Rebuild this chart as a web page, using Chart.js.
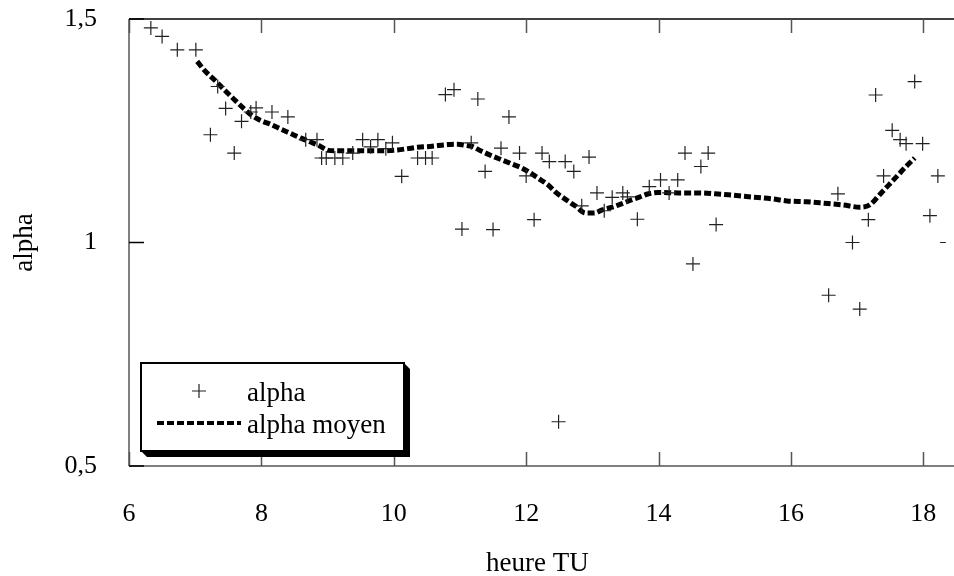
<!DOCTYPE html>
<html>
<head>
<meta charset="utf-8">
<script src="https://cdn.jsdelivr.net/npm/chart.js@4/dist/chart.umd.min.js"></script>
<style>
  html, body { margin: 0; padding: 0; background: #fff; overflow: hidden; }
  canvas { display: block; }
</style>
</head>
<body>
<canvas id="chart" width="954" height="576"></canvas>
<script>
// measured alpha values (crosses)
const hours = [6.33, 6.50, 6.73, 7.01, 7.23, 7.34, 7.46, 7.59, 7.70, 7.84, 7.92, 8.16, 8.40, 8.67, 8.84,
  8.91, 8.98, 9.11, 9.23, 9.38, 9.53, 9.65, 9.76, 9.88, 9.98, 10.12, 10.36, 10.48, 10.58, 10.78,
  10.91, 11.03, 11.17, 11.27, 11.38, 11.50, 11.62, 11.74, 11.90, 12.00, 12.12, 12.24, 12.35, 12.49,
  12.59, 12.72, 12.84, 12.95, 13.07, 13.18, 13.30, 13.46, 13.53, 13.68, 13.86, 14.03, 14.16, 14.29,
  14.40, 14.52, 14.64, 14.75, 14.87, 16.57, 16.71, 16.93, 17.04, 17.17, 17.28, 17.40, 17.53, 17.65,
  17.74, 17.87, 17.99, 18.10, 18.22, 18.36];
const alpha = [1.480, 1.461, 1.431, 1.431, 1.241, 1.349, 1.300, 1.200, 1.271, 1.292, 1.301, 1.292, 1.281, 1.230, 1.230,
  1.189, 1.189, 1.189, 1.189, 1.200, 1.230, 1.214, 1.230, 1.210, 1.223, 1.148, 1.189, 1.189, 1.189, 1.331,
  1.342, 1.030, 1.223, 1.321, 1.159, 1.029, 1.211, 1.281, 1.200, 1.149, 1.051, 1.200, 1.181, 0.599,
  1.181, 1.159, 1.082, 1.191, 1.111, 1.071, 1.101, 1.111, 1.102, 1.052, 1.125, 1.140, 1.111, 1.140,
  1.200, 0.952, 1.170, 1.200, 1.040, 0.882, 1.109, 1.000, 0.851, 1.051, 1.330, 1.149, 1.251, 1.230,
  1.221, 1.360, 1.221, 1.060, 1.149, 1.000];

// running mean (dashed curve)
const meanHours = [7.03, 7.16, 7.31, 7.45, 7.59, 7.74, 7.86, 7.99, 8.13, 8.29, 8.44, 8.59, 8.72, 8.87,
  9.01, 9.11, 9.46, 9.76, 10.06, 10.21, 10.36, 10.55, 10.81, 10.96, 11.10, 11.18, 11.33, 11.48,
  11.63, 11.78, 11.93, 12.05, 12.18, 12.33, 12.45, 12.60, 12.75, 12.90, 13.03, 13.15, 13.30, 13.45,
  13.60, 13.72, 13.85, 14.00, 14.30, 14.60, 14.85, 15.10, 15.40, 15.70, 15.94, 16.24, 16.49, 16.79,
  17.04, 17.19, 17.34, 17.48, 17.60, 17.74, 17.87];
const meanAlpha = [1.405, 1.382, 1.361, 1.340, 1.320, 1.299, 1.284, 1.273, 1.265, 1.254, 1.244, 1.234, 1.226, 1.217,
  1.206, 1.205, 1.205, 1.205, 1.207, 1.210, 1.213, 1.215, 1.219, 1.220, 1.217, 1.215, 1.204, 1.194,
  1.185, 1.176, 1.167, 1.157, 1.144, 1.129, 1.112, 1.096, 1.081, 1.066, 1.066, 1.073, 1.079, 1.087,
  1.096, 1.102, 1.109, 1.112, 1.111, 1.111, 1.109, 1.106, 1.102, 1.098, 1.093, 1.091, 1.088, 1.084,
  1.079, 1.084, 1.107, 1.129, 1.148, 1.170, 1.189];

const xTicks = [6, 8, 10, 12, 14, 16, 18];
const yTickLabels = { 0.5: '0,5', 1: '1', 1.5: '1,5' };

const FAMILY = '"Liberation Serif", "Times New Roman", serif';
const TICK_FONT = { family: FAMILY, size: 26 };
const TEXT_FONT = { family: FAMILY, size: 27 };

// no automatic label padding: chart area is fixed by layout padding
const noPad = s => { s.paddingLeft = s.paddingRight = s.paddingTop = s.paddingBottom = 0; };

// axes drawn by hand: ticks pointing inwards, gray frame
const framePlugin = {
  id: 'frame',
  beforeDatasetsDraw(chart) {
    const { ctx, chartArea: a, scales: { x, y } } = chart;
    ctx.save();
    ctx.lineCap = 'butt';
    // top line
    ctx.strokeStyle = '#000';
    ctx.lineWidth = 1.5;
    ctx.beginPath();
    ctx.moveTo(a.left, a.top); ctx.lineTo(chart.width, a.top);
    ctx.stroke();
    // left + bottom
    ctx.strokeStyle = '#808080';
    ctx.lineWidth = 2;
    ctx.beginPath();
    ctx.moveTo(a.left, a.top); ctx.lineTo(a.left, a.bottom);
    ctx.moveTo(a.left, a.bottom); ctx.lineTo(chart.width, a.bottom);
    ctx.stroke();
    // x ticks top & bottom
    ctx.strokeStyle = '#555';
    ctx.lineWidth = 1.5;
    ctx.beginPath();
    xTicks.forEach(v => {
      const px = Math.round(x.getPixelForValue(v)) + 0.5;
      ctx.moveTo(px, a.top); ctx.lineTo(px, a.top + 14);
      ctx.moveTo(px, a.bottom); ctx.lineTo(px, a.bottom - 14);
    });
    ctx.stroke();
    // y ticks
    ctx.strokeStyle = '#000';
    ctx.beginPath();
    Object.keys(yTickLabels).forEach(v => {
      const py = y.getPixelForValue(+v);
      ctx.moveTo(a.left, py); ctx.lineTo(a.left + 15, py);
    });
    ctx.stroke();
    ctx.restore();
  }
};

// boxed legend with drop shadow
const boxLegend = {
  id: 'boxLegend',
  afterDatasetsDraw(chart) {
    const { ctx, chartArea: a } = chart;
    const L = a.left + 12, R = a.left + 275, T = a.bottom - 103, B = a.bottom - 15;
    const sh = 6;
    ctx.save();
    ctx.fillStyle = '#000';
    ctx.beginPath();
    ctx.moveTo(R, T); ctx.lineTo(R + sh, T + sh); ctx.lineTo(R + sh, B + sh);
    ctx.lineTo(L + sh, B + sh); ctx.lineTo(L, B); ctx.lineTo(R, B); ctx.closePath();
    ctx.fill();
    ctx.fillStyle = '#fff';
    ctx.fillRect(L, T, R - L, B - T);
    ctx.strokeStyle = '#000';
    ctx.lineWidth = 2;
    ctx.strokeRect(L, T, R - L, B - T);

    const ds = chart.data.datasets;
    const row1 = T + 31, row2 = T + 63;
    // cross marker
    ctx.strokeStyle = '#222';
    ctx.lineWidth = 1.2;
    ctx.beginPath();
    ctx.moveTo(L + 58 - 7, row1 - 3); ctx.lineTo(L + 58 + 7, row1 - 3);
    ctx.moveTo(L + 58, row1 - 10); ctx.lineTo(L + 58, row1 + 4);
    ctx.stroke();
    // dashed sample
    ctx.strokeStyle = '#000';
    ctx.lineWidth = 4;
    ctx.setLineDash([7, 3]);
    ctx.beginPath();
    ctx.moveTo(L + 16, row2 - 3); ctx.lineTo(L + 100, row2 - 3);
    ctx.stroke();
    ctx.setLineDash([]);
    ctx.fillStyle = '#000';
    ctx.font = `${TEXT_FONT.size}px ${TEXT_FONT.family}`;
    ctx.textBaseline = 'middle';
    ctx.fillText(ds[0].label, L + 106, row1);
    ctx.fillText(ds[1].label, L + 106, row2);
    ctx.restore();
  }
};

new Chart(document.getElementById('chart'), {
  type: 'scatter',
  data: {
    datasets: [
      {
        label: 'alpha',
        data: hours.map((h, i) => ({ x: h, y: alpha[i] })),
        pointStyle: 'cross',
        pointRadius: 7,
        borderColor: '#222',
        borderWidth: 1.2,
        showLine: false
      },
      {
        label: 'alpha moyen',
        data: meanHours.map((h, i) => ({ x: h, y: meanAlpha[i] })),
        showLine: true,
        pointRadius: 0,
        borderColor: '#000',
        borderWidth: 5,
        borderDash: [7, 3],
        cubicInterpolationMode: 'monotone'
      }
    ]
  },
  options: {
    responsive: false,
    animation: false,
    devicePixelRatio: 1,
    // right padding compensates the 4px Chart.js keeps on the right
    layout: { padding: { left: 0, top: 19, right: -3, bottom: 0 } },
    plugins: { legend: { display: false }, tooltip: { enabled: false } },
    scales: {
      x: {
        type: 'linear',
        min: 6,
        max: 18.34,
        grid: { display: false },
        border: { display: false },
        afterBuildTicks: s => { s.ticks = xTicks.map(v => ({ value: v })); },
        afterFit: s => { s.height = 110; noPad(s); },
        ticks: { padding: 25, color: '#000', font: TICK_FONT, maxRotation: 0 },
        title: { display: true, text: 'heure TU', color: '#000', font: TEXT_FONT, padding: { top: 0, bottom: -4 } }
      },
      y: {
        min: 0.5,
        max: 1.5,
        grid: { display: false },
        border: { display: false },
        afterBuildTicks: s => { s.ticks = Object.keys(yTickLabels).map(v => ({ value: +v })); },
        afterFit: s => { s.width = 129; noPad(s); },
        ticks: { padding: 24, color: '#000', font: TICK_FONT, callback: v => yTickLabels[v] },
        title: { display: true, text: 'alpha', color: '#000', font: TEXT_FONT, padding: { top: 9, bottom: 0 } }
      }
    }
  },
  plugins: [framePlugin, boxLegend]
});
</script>
</body>
</html>
